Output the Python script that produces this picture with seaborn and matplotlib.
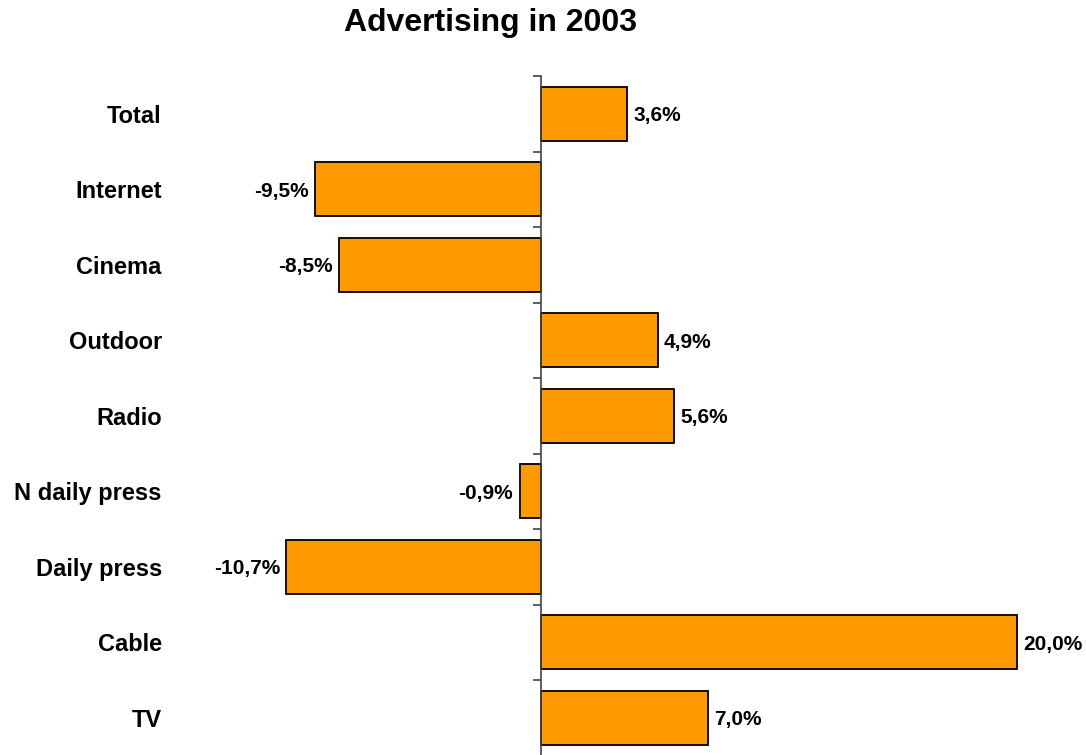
import matplotlib
matplotlib.use("Agg")
import matplotlib.pyplot as plt
import seaborn as sns
import pandas as pd
import numpy as np

categories = ["Total", "Internet", "Cinema", "Outdoor", "Radio", "N daily press", "Daily press", "Cable", "TV"]
values = [3.6, -9.5, -8.5, 4.9, 5.6, -0.9, -10.7, 20.0, 7.0]
value_labels = ["3,6%", "-9,5%", "-8,5%", "4,9%", "5,6%", "-0,9%", "-10,7%", "20,0%", "7,0%"]
title = "Advertising in 2003"

sns.set_theme(style="white")
plt.rcParams['font.family'] = ['Liberation Sans', 'DejaVu Sans']
plt.rcParams['text.color'] = 'black'

df = pd.DataFrame({"category": categories, "value": values})

W, H = 1086, 755
fig = plt.figure(figsize=(W / 100, H / 100), dpi=100)
L, R = 190, 1040
top, bottom = 76, 755.5
ax = fig.add_axes([L / W, 1 - bottom / H, (R - L) / W, (bottom - top) / H])

sns.barplot(data=df, x="value", y="category", orient="h", color="#FF9900",
            saturation=1, edgecolor="black", linewidth=1.3, width=0.72, ax=ax)

scale = 23.8
ax.set_xlim(-(541 - L) / scale, (R - 541) / scale)
ax.set_ylim(len(categories) - 0.5, -0.5)

for s in ["top", "right", "bottom"]:
    ax.spines[s].set_visible(False)
ax.spines["left"].set_position(("data", 0))
ax.spines["left"].set_color("#444444")
ax.spines["left"].set_linewidth(1.2)
ax.set_xticks([])
ax.set_xlabel("")
ax.set_ylabel("")

ax.set_yticks(np.arange(len(categories)))
ax.set_yticklabels(categories, fontsize=17, fontweight="bold", color="black")
ax.tick_params(axis="y", which="major", length=0, pad=273)
ax.set_yticks(np.arange(-0.5, len(categories) + 0.5, 1), minor=True)
ax.tick_params(axis="y", which="minor", length=6, width=1.1, color="#333333", left=True, direction="out")

for i, (v, lab) in enumerate(zip(values, value_labels)):
    off = 0.27
    if v >= 0:
        ax.text(v + off, i, lab, ha="left", va="center_baseline", fontsize=15, fontweight="bold", color="black")
    else:
        ax.text(v - off, i, lab, ha="right", va="center_baseline", fontsize=15, fontweight="bold", color="black")

fig.text(491 / W, 1 - 23 / H, title, ha="center", va="center", fontsize=23, fontweight="bold", color="black")

fig.savefig("out.png", dpi=100)
